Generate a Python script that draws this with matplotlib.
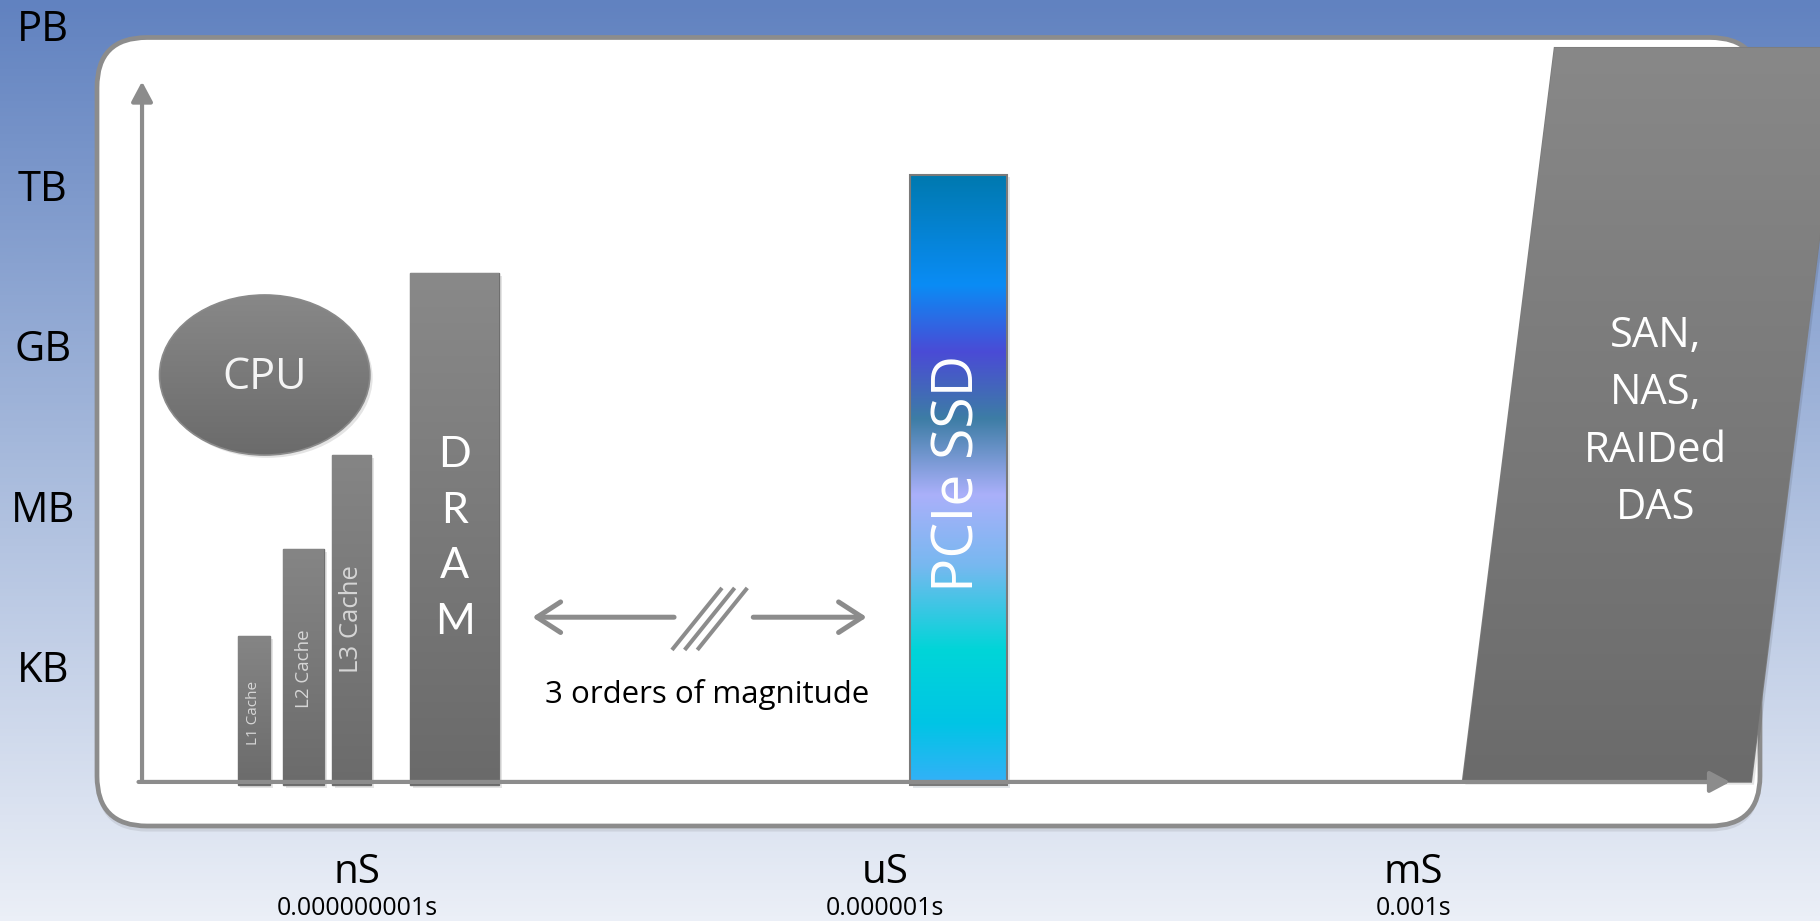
import numpy as np
import matplotlib
matplotlib.use("Agg")
import matplotlib.pyplot as plt
import matplotlib.patheffects as pe
from matplotlib.colors import LinearSegmentedColormap
from matplotlib.patches import FancyBboxPatch, Rectangle, Ellipse, Polygon
from matplotlib.transforms import blended_transform_factory

plt.rcParams['font.family'] = ['Open Sans', 'DejaVu Sans']

# capacity is in "levels" (1 = KB ... 5 = PB), latency is log10(seconds)
size_labels = ["KB", "MB", "GB", "TB", "PB"]
size_levels = [1, 2, 3, 4, 5]
latency_labels = ["nS", "uS", "mS"]
latency_seconds = ["0.000000001s", "0.000001s", "0.001s"]
latency_log = [-9, -6, -3]

cache_names = ["L1 Cache", "L2 Cache", "L3 Cache"]
cache_left = [-9.68, -9.42, -9.145]
cache_width = [0.185, 0.23, 0.225]
cache_top = [1.19, 1.735, 2.32]
cache_label_y = [0.716, 0.989, 1.296]
cache_fontsize = [11, 13.5, 18.5]

dram_left, dram_width, dram_top = -8.70, 0.505, 3.456
ssd_left, ssd_width, ssd_top = -5.86, 0.553, 4.07
san_left, san_right, san_top, san_lean = -2.72, -1.08, 4.86, 0.523
san_lines = ["SAN,", "NAS,", "RAIDed", "DAS"]
cpu_center, cpu_w, cpu_h = (-9.526, 2.82), 1.195, 0.998

base = 0.265
axis_x, axis_y = -10.223, 0.283
axis_top, axis_end = 4.65, -1.20

GREY = '#8c8c8c'
bar_grey = ['#858585', '#6b6b6b']
ssd_colors = [(0.00, '#0079af'), (0.18, '#0a8cf5'), (0.29, '#4a4bd6'),
              (0.40, '#3d7da5'), (0.525, '#aab0fa'), (0.64, '#78b8f0'),
              (0.78, '#00d5d8'), (0.90, '#00c5e5'), (1.00, '#35b0f8')]

fig = plt.figure(figsize=(18.2, 9.21), dpi=100)

# background gradient and the rounded white panel (pixel units)
bg = fig.add_axes([0, 0, 1, 1], zorder=0)
bg.axis('off')
sky = LinearSegmentedColormap.from_list('sky', ['#6182c0', '#a7badc', '#ebeff7'])
bg.imshow(np.linspace(0, 1, 256)[:, None], cmap=sky, aspect='auto',
          extent=(0, 1820, 921, 0), origin='upper', interpolation='bilinear')
panel = FancyBboxPatch((97, 37.5), 1663, 788.5, boxstyle='round,pad=0,rounding_size=50',
                       fc='white', ec=GREY, lw=3.4,
                       path_effects=[pe.SimplePatchShadow(offset=(0, -4), alpha=0.12), pe.Normal()])
bg.add_patch(panel)
bg.set_xlim(0, 1820)
bg.set_ylim(921, 0)

ax = fig.add_axes([0, 0, 1, 1], zorder=1)
ax.axis('off')
shadow = [pe.SimplePatchShadow(offset=(2, -2), alpha=0.12), pe.Normal()]


def gradient_fill(patch, colors, x0, x1, y0, y1, z):
    cmap = LinearSegmentedColormap.from_list('fill', colors)
    im = ax.imshow(np.linspace(0, 1, 256)[:, None], cmap=cmap, aspect='auto',
                   extent=(x0, x1, y0, y1), origin='upper', zorder=z,
                   interpolation='bilinear')
    im.set_clip_path(patch)


# cache bars with their rotated labels
bars = ax.bar(cache_left, np.subtract(cache_top, base), width=cache_width, bottom=base,
              align='edge', color='#777777', edgecolor='#6f6f6f', lw=1, zorder=3)
for b, name, top, y, fs in zip(bars, cache_names, cache_top, cache_label_y, cache_fontsize):
    b.set_path_effects(shadow)
    x0 = b.get_x()
    gradient_fill(b, bar_grey, x0, x0 + b.get_width(), base, top, 3.5)
    ax.text(x0 + b.get_width() / 2, y, name, rotation=90, ha='center', va='center',
            fontsize=fs, color='#d6d6d6', zorder=5)

# DRAM
dram = ax.bar([dram_left], [dram_top - base], width=dram_width, bottom=base, align='edge',
              color='#777777', edgecolor='#6f6f6f', lw=1, zorder=3)[0]
dram.set_path_effects(shadow)
gradient_fill(dram, ['#898989', '#6a6a6a'], dram_left, dram_left + dram_width, base, dram_top, 3.5)
for i, ch in enumerate("DRAM"):
    ax.text(dram_left + dram_width / 2, 2.322 - 0.347 * i, ch, ha='center', va='center',
            fontsize=31, color='white', family=['Lato', 'DejaVu Sans'], zorder=5)

# CPU
cpu = Ellipse(cpu_center, cpu_w, cpu_h, fc='#777777', ec='none', zorder=3)
cpu.set_path_effects(shadow)
ax.add_patch(cpu)
gradient_fill(cpu, ['#888888', '#6b6b6b'], cpu_center[0] - cpu_w / 2, cpu_center[0] + cpu_w / 2,
              cpu_center[1] - cpu_h / 2, cpu_center[1] + cpu_h / 2, 3.5)
ax.add_patch(Ellipse(cpu_center, cpu_w, cpu_h, fill=False, ec='#8a8a8a', lw=1.2, zorder=3.6))
ax.text(cpu_center[0], cpu_center[1] - 0.02, "CPU", ha='center', va='center',
        fontsize=31, color='#f4f4f4', zorder=5)

# PCIe SSD
ssd = ax.bar([ssd_left], [ssd_top - base], width=ssd_width, bottom=base, align='edge',
             color='#2aa0e0', edgecolor='none', zorder=3)[0]
ssd.set_path_effects(shadow)
gradient_fill(ssd, ssd_colors, ssd_left, ssd_left + ssd_width, base, ssd_top, 3.5)
ax.add_patch(Rectangle((ssd_left, base), ssd_width, ssd_top - base, fill=False,
                       ec='#7a7a7a', lw=1.5, zorder=3.6))
ax.text(ssd_left + ssd_width / 2, 2.209, "PCIe SSD", rotation=90, ha='center', va='center',
        fontsize=41, color='white', zorder=5)

# SAN / NAS block, leaning to the right
san = Polygon([(san_left, axis_y), (san_right, axis_y),
               (san_right + san_lean, san_top), (san_left + san_lean, san_top)],
              closed=True, fc='#777777', ec='#7c7c7c', lw=1.2, zorder=3)
san.set_path_effects(shadow)
ax.add_patch(san)
gradient_fill(san, ['#888888', '#6b6b6b'], san_left, san_right + san_lean, axis_y, san_top, 3.5)
san_x = (san_left + san_right) / 2 + san_lean * 0.55 - 0.01
for i, line in enumerate(san_lines):
    ax.annotate(line, xy=(san_x, 3.089 - 0.358 * i), xytext=(0, -10.7), textcoords='offset points',
                ha='center', va='baseline', fontsize=30, color='white', zorder=5)

# axes arrows
arrow_head = dict(arrowstyle='-|>,head_length=0.6,head_width=0.32', color=GREY, lw=3,
                  shrinkA=0, shrinkB=0, mutation_scale=20)
ax.annotate('', xy=(axis_x, axis_top), xytext=(axis_x, axis_y), arrowprops=arrow_head, zorder=6)
ax.annotate('', xy=(axis_end, axis_y), xytext=(axis_x - 0.02, axis_y), arrowprops=arrow_head, zorder=6)

# gap between DRAM and SSD latency
gap_y = 1.31
chevron = dict(arrowstyle='->,head_length=0.85,head_width=0.55', color=GREY, lw=3.6,
               shrinkA=0, shrinkB=0, mutation_scale=20, capstyle='round', joinstyle='round')
ax.annotate('', xy=(dram_left + dram_width + 0.19, gap_y), xytext=(-7.20, gap_y), arrowprops=chevron, zorder=5)
ax.annotate('', xy=(ssd_left - 0.245, gap_y), xytext=(-6.75, gap_y), arrowprops=chevron, zorder=5)
for k in range(3):
    dx = 0.072 * k
    ax.plot([-7.212 + dx, -6.928 + dx], [1.106, 1.4925], color=GREY, lw=2.9,
            solid_capstyle='butt', zorder=5)
ax.annotate("3 orders of magnitude", xy=(-7.013, 0.844), xytext=(0, -8), textcoords='offset points',
            ha='center', va='baseline', fontsize=22.5, color='black', zorder=5)

# capacity and latency labels outside the panel
left_tr = blended_transform_factory(ax.transAxes, ax.transData)
for lvl, lab in zip(size_levels, size_labels):
    ax.annotate(lab, xy=(0.0236, lvl), xycoords=left_tr, xytext=(0, -11), textcoords='offset points',
                ha='center', va='baseline', fontsize=30, color='black')

bottom_tr = blended_transform_factory(ax.transData, ax.transAxes)
for x, lab, sec in zip(latency_log, latency_labels, latency_seconds):
    ax.text(x, 1 - 883 / 921, lab, transform=bottom_tr, ha='center', va='baseline',
            fontsize=29, color='black')
    ax.text(x, 1 - 915 / 921, sec, transform=bottom_tr, ha='center', va='baseline',
            fontsize=18, color='black')

ax.set_xlim(-11.03, -0.689)
ax.set_ylim(-0.584, 5.158)

fig.savefig('out.png', dpi=100)
